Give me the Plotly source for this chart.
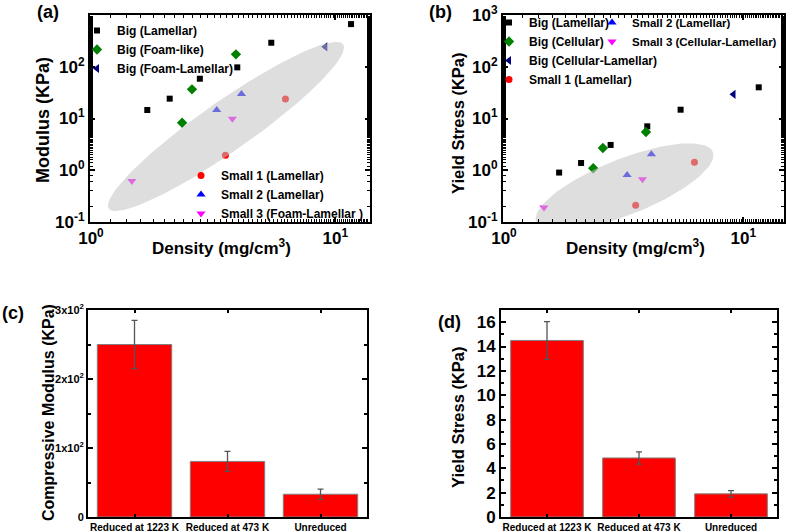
import numpy as np
import plotly.graph_objects as go

W, H = 787, 532

# ---------------- data: panels (a) and (b) ----------------
big_lam_density = [1.70, 2.10, 2.79, 3.97, 5.47, 11.6]
big_lam_modulus = [14.6, 24.2, 58.8, 97.5, 292, 670]
big_lam_yield = [0.90, 1.38, 3.08, 7.06, 14.8, 40.1]

big_foam_density = [2.36, 2.59, 3.92]
big_foam_modulus = [8.3, 36.6, 174]
big_cell_yield = [1.09, 2.69, 5.48]

big_fl_density = [9.1]
big_fl_modulus = [244]
big_cl_yield = [29.3]

small1_density = [3.55, 6.25]
small1_modulus = [1.95, 23.8]
small1_yield = [0.21, 1.43]

small2_density = [3.27, 4.13]
small2_modulus = [14.6, 29.7]
small2_yield = [0.81, 2.03]

small3_density = [1.47, 3.79]
small3_modulus = [0.62, 9.9]
small3_yield = [0.19, 0.67]

# ---------------- data: panels (c) and (d) ----------------
treatments = ["Reduced at 1223 K", "Reduced at 473 K", "Unreduced"]
comp_modulus = [250, 80.5, 33]
comp_modulus_err = [35, 14.5, 7.5]
yield_stress = [14.5, 4.85, 1.9]
yield_stress_err = [1.55, 0.5, 0.26]

log_ticks = [0.1, 1, 10, 100, 1000]
log_tick_text = ["10<sup>-1</sup>", "10<sup>0</sup>", "10<sup>1</sup>", "10<sup>2</sup>", "10<sup>3</sup>"]
x_log_ticks = [1, 10]
x_log_tick_text = ["10<sup>0</sup>", "10<sup>1</sup>"]
c_ticks = [0, 100, 200, 300]
c_tick_text = ["0", "1x10<sup>2</sup>", "2x10<sup>2</sup>", "3x10<sup>2</sup>"]

# ---------------- layout geometry (pixels) ----------------
PA = dict(x0=90, x1=370, y0=15, y1=222)
PB = dict(x0=503, x1=784, y0=15, y1=222)
PC = dict(x0=88, x1=367, y0=310, y1=517)
PD = dict(x0=501, x1=777, y0=310, y1=517)
XR_A = [-0.004, 1.142]
XR_B = [-0.004, 1.17]
YR_LOG = [-1.002, 3.002]

FONT = "Liberation Sans, Arial, sans-serif"


def xdom(p):
    return [p["x0"] / W, p["x1"] / W]


def ydom(p):
    return [1 - p["y1"] / H, 1 - p["y0"] / H]


def ellipse(cx, cy, a_px, b_px, ang_deg, p, xr, yr, n=120):
    t = np.linspace(0, 2 * np.pi, n)
    th = np.radians(ang_deg)
    dx = a_px * np.cos(t) * np.cos(th) - b_px * np.sin(t) * np.sin(th)
    dy = a_px * np.cos(t) * np.sin(th) + b_px * np.sin(t) * np.cos(th)
    sx = (xr[1] - xr[0]) / (p["x1"] - p["x0"])
    sy = (yr[1] - yr[0]) / (p["y1"] - p["y0"])
    return 10 ** (np.log10(cx) + dx * sx), 10 ** (np.log10(cy) + dy * sy)


fig = go.Figure()

mk = dict(
    black=dict(symbol="square", color="black", size=6),
    green=dict(symbol="diamond", color="#008000", size=8),
    navy=dict(symbol="triangle-left", color="#000080", size=8),
    red=dict(symbol="circle", color="#ff0000", size=7),
    blue=dict(symbol="triangle-up", color="#0000ff", size=8),
    mag=dict(symbol="triangle-down", color="#ff00ff", size=8),
)

# panel (a)
fig.add_trace(go.Scatter(x=big_lam_density, y=big_lam_modulus, mode="markers", marker=mk["black"],
                         name="Big (Lamellar)", xaxis="x", yaxis="y", legend="legend"))
fig.add_trace(go.Scatter(x=big_foam_density, y=big_foam_modulus, mode="markers", marker=mk["green"],
                         name="Big (Foam-like)", xaxis="x", yaxis="y", legend="legend"))
fig.add_trace(go.Scatter(x=big_fl_density, y=big_fl_modulus, mode="markers", marker=mk["navy"],
                         name="Big (Foam-Lamellar)", xaxis="x", yaxis="y", legend="legend"))
fig.add_trace(go.Scatter(x=small1_density, y=small1_modulus, mode="markers", marker=mk["red"],
                         name="Small 1 (Lamellar)", xaxis="x", yaxis="y", legend="legend2"))
fig.add_trace(go.Scatter(x=small2_density, y=small2_modulus, mode="markers", marker=mk["blue"],
                         name="Small 2 (Lamellar)", xaxis="x", yaxis="y", legend="legend2"))
fig.add_trace(go.Scatter(x=small3_density, y=small3_modulus, mode="markers", marker=mk["mag"],
                         name="Small 3 (Foam-Lamellar )", xaxis="x", yaxis="y", legend="legend2"))
ex, ey = ellipse(3.57, 7.0, 143, 25, 35, PA, XR_A, YR_LOG)
fig.add_trace(go.Scatter(x=ex, y=ey, mode="lines", fill="toself", fillcolor="rgba(195,195,195,0.55)",
                         line=dict(width=0), showlegend=False, hoverinfo="skip", xaxis="x", yaxis="y"))

# panel (b)
fig.add_trace(go.Scatter(x=big_lam_density, y=big_lam_yield, mode="markers", marker=mk["black"],
                         name="Big (Lamellar)", xaxis="x2", yaxis="y2", legend="legend3"))
fig.add_trace(go.Scatter(x=big_foam_density, y=big_cell_yield, mode="markers", marker=mk["green"],
                         name="Big (Cellular)", xaxis="x2", yaxis="y2", legend="legend3"))
fig.add_trace(go.Scatter(x=big_fl_density, y=big_cl_yield, mode="markers", marker=mk["navy"],
                         name="Big (Cellular-Lamellar)", xaxis="x2", yaxis="y2", legend="legend3"))
fig.add_trace(go.Scatter(x=small1_density, y=small1_yield, mode="markers", marker=mk["red"],
                         name="Small 1 (Lamellar)", xaxis="x2", yaxis="y2", legend="legend3"))
fig.add_trace(go.Scatter(x=small2_density, y=small2_yield, mode="markers", marker=mk["blue"],
                         name="Small 2 (Lamellar)", xaxis="x2", yaxis="y2", legend="legend4"))
fig.add_trace(go.Scatter(x=small3_density, y=small3_yield, mode="markers", marker=mk["mag"],
                         name="Small 3 (Cellular-Lamellar)", xaxis="x2", yaxis="y2", legend="legend4"))
ex, ey = ellipse(3.19, 0.474, 95, 28, 21.6, PB, XR_B, YR_LOG)
fig.add_trace(go.Scatter(x=ex, y=ey, mode="lines", fill="toself", fillcolor="rgba(195,195,195,0.55)",
                         line=dict(width=0), showlegend=False, hoverinfo="skip", xaxis="x2", yaxis="y2"))

# panel (c)
bar_marker = dict(color="#ff0000", line=dict(color="#808080", width=1))
fig.add_trace(go.Bar(x=treatments, y=comp_modulus, width=0.8, marker=bar_marker,
                     error_y=dict(type="data", array=comp_modulus_err, color="#555555", thickness=1.3, width=3),
                     showlegend=False, xaxis="x3", yaxis="y3"))
# panel (d)
fig.add_trace(go.Bar(x=treatments, y=yield_stress, width=0.79, marker=bar_marker,
                     error_y=dict(type="data", array=yield_stress_err, color="#555555", thickness=1.3, width=3),
                     showlegend=False, xaxis="x4", yaxis="y4"))

frame = dict(showline=True, linecolor="black", linewidth=2, mirror="ticks", ticks="inside",
             ticklen=5, tickwidth=1.5, tickcolor="black", showgrid=False, zeroline=False, automargin=False)
tickf = dict(family=FONT, size=17, color="black", weight=700)
minor_log = dict(ticks="inside", ticklen=3, tickcolor="black", tickwidth=1, showgrid=False)
catf = dict(family=FONT, size=10, color="black", weight=700)

layout = dict(
    width=W, height=H, margin=dict(l=0, r=0, t=0, b=0, autoexpand=False),
    paper_bgcolor="white", plot_bgcolor="white",
    font=dict(family=FONT, color="black"),
    xaxis=dict(frame, type="log", domain=xdom(PA), range=XR_A, anchor="y",
               tickvals=x_log_ticks, ticktext=x_log_tick_text, tickfont=tickf, minor=minor_log),
    yaxis=dict(frame, type="log", domain=ydom(PA), range=YR_LOG, anchor="x",
               tickvals=log_ticks[:-1], ticktext=log_tick_text[:-1], tickfont=tickf, minor=minor_log),
    xaxis2=dict(frame, type="log", domain=xdom(PB), range=XR_B, anchor="y2",
                tickvals=x_log_ticks, ticktext=x_log_tick_text, tickfont=tickf, minor=minor_log),
    yaxis2=dict(frame, type="log", domain=ydom(PB), range=YR_LOG, anchor="x2",
                tickvals=log_ticks, ticktext=log_tick_text, tickfont=tickf, minor=minor_log),
    xaxis3=dict(frame, type="category", domain=xdom(PC), range=[-0.5, 2.5], anchor="y3",
                ticklen=3, tickfont=catf),
    yaxis3=dict(frame, domain=ydom(PC), range=[0, 300], anchor="x3", tickvals=c_ticks, ticktext=c_tick_text,
                tickfont=dict(family=FONT, size=11, color="black", weight=700),
                minor=dict(ticks="inside", ticklen=3, dtick=50, tickcolor="black", showgrid=False)),
    xaxis4=dict(frame, type="category", domain=xdom(PD), range=[-0.5, 2.5], anchor="y4",
                ticklen=3, tickfont=catf),
    yaxis4=dict(frame, domain=ydom(PD), range=[0, 17], anchor="x4", dtick=2, tickfont=tickf,
                minor=dict(ticks="inside", ticklen=3, dtick=1, tickcolor="black", showgrid=False)),
)

legfont = dict(family=FONT, size=12, color="black", weight=700)
legcommon = dict(bgcolor="rgba(0,0,0,0)", font=legfont, itemwidth=30, tracegroupgap=0,
                 xref="container", yref="container",
                 xanchor="left", yanchor="top", itemclick=False, itemdoubleclick=False)
layout["legend"] = dict(legcommon, x=77 / W, y=1 - 16 / H)
layout["legend2"] = dict(legcommon, x=181 / W, y=1 - 161 / H)
layout["legend3"] = dict(legcommon, x=489 / W, y=1 - 8 / H)
layout["legend4"] = dict(legcommon, x=592 / W, y=1 - 8 / H, font=dict(legfont, size=11.5))

fig.update_layout(**layout)

# axis titles and panel labels
ann = []


def add_text(text, x, y, size, angle=0):
    ann.append(dict(text=text, x=x / W, y=1 - y / H, xref="paper", yref="paper", showarrow=False,
                    xanchor="center", yanchor="middle", textangle=angle,
                    font=dict(family=FONT, size=size, color="black", weight=700)))


add_text("Density (mg/cm<sup>3</sup>)", 221, 247, 17)
add_text("Density (mg/cm<sup>3</sup>)", 635, 247, 17)
add_text("Modulus (KPa)", 43, 120, 18, -90)
add_text("Yield Stress (KPa)", 458, 123, 16.5, -90)
add_text("Compressive Modulus (KPa)", 48, 413, 16, -90)
add_text("Yield Stress (KPa)", 458, 417, 16.5, -90)
add_text("(a)", 48, 12, 18)
add_text("(b)", 440, 12, 18)
add_text("(c)", 13, 313, 18)
add_text("(d)", 450, 322, 18)
fig.update_layout(annotations=ann)

fig.write_html("out.html", config={"displayModeBar": False},
               post_script="document.body.style.margin='0';document.body.style.overflow='hidden';")
